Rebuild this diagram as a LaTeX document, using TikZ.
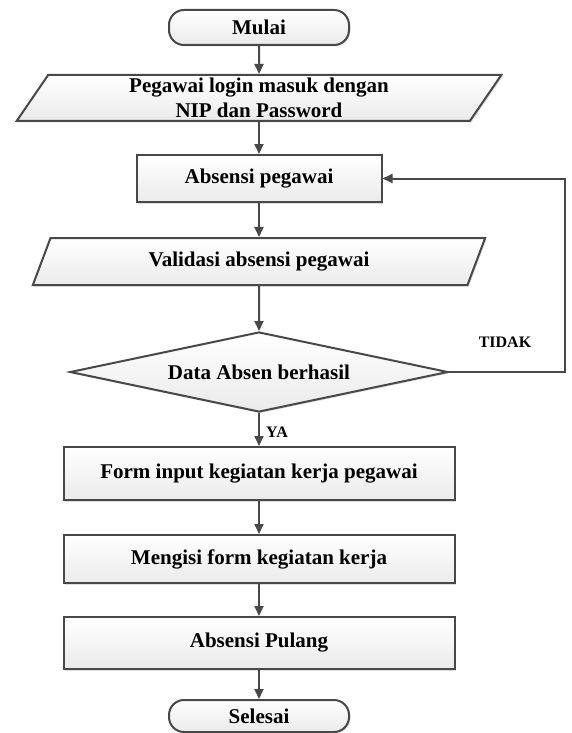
\documentclass[tikz,border=0pt]{standalone}
\usepackage{fontspec}
\setmainfont{Liberation Serif}
\usetikzlibrary{arrows.meta,shapes.geometric,shadows}
\definecolor{linegray}{RGB}{72,72,72}

\begin{document}
\begin{tikzpicture}[x=1pt,y=-1pt,
  box/.style={draw=linegray, line width=2pt, top color=white, bottom color=gray!16,
    drop shadow={shadow xshift=1.5pt, shadow yshift=-1.5pt, opacity=0.25},
    inner sep=0pt, align=center, font=\fontsize{21}{25}\selectfont\bfseries},
  proc/.style={box, rectangle},
  term/.style={box, rectangle, rounded corners=15pt},
  io/.style={box, trapezium, trapezium left angle=64, trapezium right angle=116,
    trapezium stretches=true},
  decide/.style={box, diamond, aspect=4.7},
  flow/.style={draw=linegray, line width=2pt, -{Triangle[length=10pt,width=9pt]}},
  lbl/.style={font=\fontsize{16}{18}\selectfont\bfseries}]
  \def\cx{259}   % centre line of the chart
  \def\bw{391pt} % width of the lower boxes
  \useasboundingbox (0,0) rectangle (571,733);

  \node[term, minimum width=180pt, minimum height=35pt] (mulai) at (\cx,27.5) {Mulai};
  \node[io, minimum width=486pt, minimum height=46pt] (login) at (\cx,98)
    {Pegawai login masuk dengan\\NIP dan Password};
  \node[proc, minimum width=245pt, minimum height=47pt] (absen) at (\cx,178.5) {Absensi pegawai};
  \node[io, minimum width=453pt, minimum height=47pt] (valid) at (\cx,261.5) {Validasi absensi pegawai};
  \node[decide, minimum width=378pt, minimum height=80pt] (cek) at (\cx,372) {Data Absen berhasil};
  \node[proc, minimum width=\bw, minimum height=53pt] (form) at (\cx,473.5) {Form input kegiatan kerja pegawai};
  \node[proc, minimum width=\bw, minimum height=48pt] (isi) at (\cx,559) {Mengisi form kegiatan kerja};
  \node[proc, minimum width=\bw, minimum height=52pt] (pulang) at (\cx,643) {Absensi Pulang};
  \node[term, minimum width=180pt, minimum height=32pt] (selesai) at (\cx,716) {Selesai};

  \node[lbl] (tidak) at (505,342) {TIDAK};
  \node[lbl] (ya) at (277,432) {YA};
  \coordinate (balik) at (565,372);

  \foreach \a/\b in {mulai/login, login/absen, absen/valid, valid/cek, cek/form,
                     form/isi, isi/pulang, pulang/selesai}
    { \draw[flow] (\a) -- (\b); }
  \draw[flow] (cek.east) -- (balik) |- (absen.east);
\end{tikzpicture}
\end{document}
